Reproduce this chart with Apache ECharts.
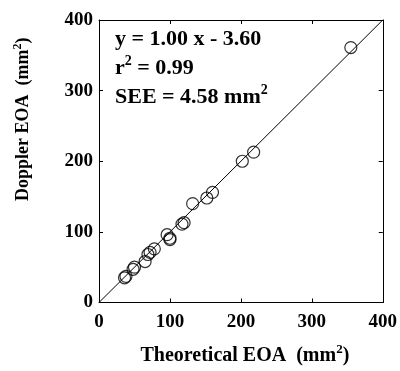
<!DOCTYPE html>
<html><head><meta charset="utf-8">
<script src="https://cdn.jsdelivr.net/npm/echarts@6/dist/echarts.min.js"></script>
<style>html,body{margin:0;padding:0;background:#fff}#c{width:400px;height:371px}</style>
</head><body><div id="c"></div>
<script>
var theoretical = [36, 38, 48, 50, 65, 69, 72, 78, 96, 100, 100, 117, 120, 132, 152, 160, 202, 218, 355];
var doppler     = [35, 37, 47, 50, 58, 68, 71, 76, 96, 91, 89, 111, 113, 140, 148, 156, 200, 213, 361];
var lineX = [0, 400];
var lineY = [0, 400];
var ticks = [0, 100, 200, 300, 400];
var annotation = ['y = 1.00 x - 3.60', 'r', '2', ' = 0.99', 'SEE = 4.58 mm', '2'];
var xTitle = ['Theoretical EOA  (mm', '2', ')'];
var yTitle = ['Doppler EOA  (mm', '2', ')'];

var FONT = '"Liberation Serif","Times New Roman",serif';
var chart = echarts.init(document.getElementById('c'), null, {renderer:'canvas'});
var axisCommon = {
  type:'value', min:ticks[0], max:ticks[ticks.length-1], interval:100,
  axisLine:{show:true, onZero:false, lineStyle:{color:'#000', width:1}},
  axisTick:{show:true, inside:true, length:4, lineStyle:{color:'#000'}},
  splitLine:{show:false}
};
function rich(sz){
  return {
    a:{fontFamily:FONT, fontWeight:'bold', fontSize:sz, color:'#000'},
    s:{fontFamily:FONT, fontWeight:'bold', fontSize:Math.round(sz*0.65), color:'#000', verticalAlign:'bottom', padding:[0,0,Math.round(sz*0.6),0]}
  };
}
chart.setOption({
  animation:false,
  backgroundColor:'#fff',
  grid:{left:99, right:16, top:20, bottom:67},
  xAxis:[
    Object.assign({}, axisCommon, {
      position:'bottom',
      axisLabel:{margin:10, fontFamily:FONT, fontWeight:'bold', fontSize:19, color:'#000'},
      name:'{a|'+xTitle[0]+'}{s|'+xTitle[1]+'}{a|'+xTitle[2]+'}',
      nameLocation:'middle', nameGap:41,
      nameTextStyle:{rich:rich(20), padding:[0,0,0,8]}
    }),
    Object.assign({}, axisCommon, {position:'top', axisLabel:{show:false}})
  ],
  yAxis:[
    Object.assign({}, axisCommon, {
      position:'left',
      axisLabel:{margin:6, fontFamily:FONT, fontWeight:'bold', fontSize:19, color:'#000'},
      name:'{a|'+yTitle[0]+'}{s|'+yTitle[1]+'}{a|'+yTitle[2]+'}',
      nameLocation:'middle', nameGap:64, nameRotate:90,
      nameTextStyle:{rich:rich(18), padding:[0,0,0,84]}
    }),
    Object.assign({}, axisCommon, {position:'right', axisLabel:{show:false}})
  ],
  graphic:[{
    type:'text', left:115, top:28,
    style:{
      text:'{a|'+annotation[0]+'}\n{a|'+annotation[1]+'}{s|'+annotation[2]+'}{a|'+annotation[3]+'}\n{a|'+annotation[4]+'}{s|'+annotation[5]+'}',
      rich:{
        a:{fontFamily:FONT, fontWeight:'bold', fontSize:22, color:'#000', lineHeight:29},
        s:{fontFamily:FONT, fontWeight:'bold', fontSize:14, color:'#000', lineHeight:29, padding:[0,0,14,0]}
      }
    }
  }],
  series:[
    {type:'line', data:lineX.map(function(v,i){return [v, lineY[i]];}), symbol:'none',
     lineStyle:{color:'#000', width:1}, silent:true},
    {type:'scatter', data:theoretical.map(function(v,i){return [v, doppler[i]];}),
     symbol:'circle', symbolSize:12,
     itemStyle:{color:'rgba(0,0,0,0)', borderColor:'#000', borderWidth:1.2}}
  ]
});
</script></body></html>
